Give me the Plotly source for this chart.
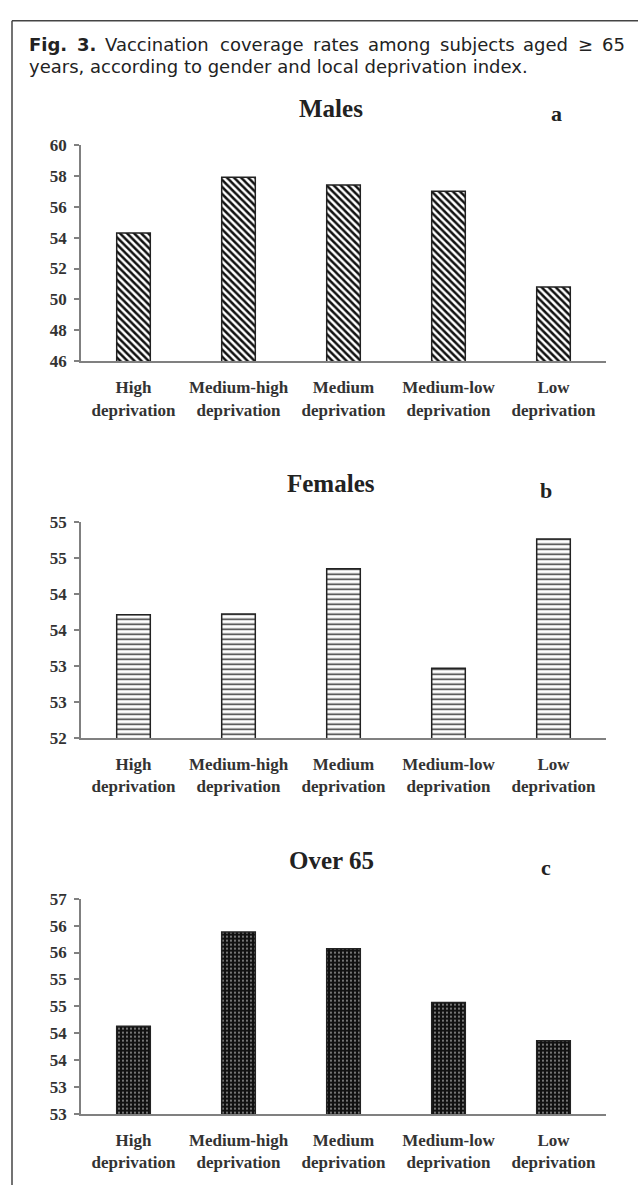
import plotly.graph_objects as go

W, H = 638, 1195

categories = ["High<br>deprivation", "Medium-high<br>deprivation", "Medium<br>deprivation",
              "Medium-low<br>deprivation", "Low<br>deprivation"]

males = [54.3, 57.9, 57.4, 57.0, 50.8]
females = [53.71, 53.72, 54.35, 52.97, 54.76]
over65 = [54.13, 55.88, 55.57, 54.57, 53.86]

males_ticks = [46, 48, 50, 52, 54, 56, 58, 60]
males_ticktext = ["46", "48", "50", "52", "54", "56", "58", "60"]
females_ticks = [52.0, 52.5, 53.0, 53.5, 54.0, 54.5, 55.0]
females_ticktext = ["52", "53", "53", "54", "54", "55", "55"]
over65_ticks = [52.5, 53.0, 53.5, 54.0, 54.5, 55.0, 55.5, 56.0, 56.5]
over65_ticktext = ["53", "53", "54", "54", "55", "55", "56", "56", "57"]

titles = ["Males", "Females", "Over 65"]
letters = ["a", "b", "c"]

caption_words_line1 = ["<b>Fig.</b>", "<b>3.</b>", "Vaccination", "coverage", "rates", "among",
                       "subjects", "aged", "\u2265", "65"]
caption_line2 = "years, according to gender and local deprivation index."

# layout: left edge (px) of each caption word (line 1 is justified)
caption_word_x = [27, 74.5, 103.2, 217.6, 310.5, 365.7, 437.5, 521.4, 575.8, 600.1]


def px_x(v):
    return v / W


def px_y(v):
    return 1 - v / H


SERIF = "Liberation Serif, Times New Roman, serif"
SANS = "DejaVu Sans, sans-serif"

fig = go.Figure()

panels = [
    dict(vals=males, ticks=males_ticks, text=males_ticktext, rng=[46, 60], top=138, bot=358,
         pattern=dict(shape="\\", size=5, solidity=0.5, fgcolor="#111", bgcolor="white", fillmode="replace"),
         title_y=101, letter_x=556, letter_y=106),
    dict(vals=females, ticks=females_ticks, text=females_ticktext, rng=[52, 55], top=521, bot=741,
         pattern=dict(shape="-", size=5, solidity=0.3, fgcolor="#333", bgcolor="white", fillmode="replace"),
         title_y=482, letter_x=546, letter_y=489),
    dict(vals=over65, ticks=over65_ticks, text=over65_ticktext, rng=[52.5, 56.5], top=904, bot=1123,
         pattern=dict(shape=".", size=4, solidity=0.12, fgcolor="white", bgcolor="#111", fillmode="replace"),
         title_y=865, letter_x=546, letter_y=872),
]

for i, p in enumerate(panels):
    n = i + 1
    xa = "x" if n == 1 else f"x{n}"
    ya = "y" if n == 1 else f"y{n}"
    fig.add_trace(go.Bar(
        x=categories, y=p["vals"], xaxis=xa, yaxis=ya, width=0.32,
        marker=dict(color="white", line=dict(color="#222", width=1.5), pattern=p["pattern"]),
        showlegend=False, hoverinfo="skip",
    ))
    fig.update_layout(**{
        f"xaxis{'' if n == 1 else n}": dict(
            domain=[px_x(81), px_x(606)], anchor=ya, showline=True, linecolor="#808080", linewidth=1.5,
            showgrid=False, zeroline=False, ticks="", ticklabelstandoff=10,
            tickfont=dict(family=SERIF, size=17, color="#333", weight="bold"), fixedrange=True,
        ),
        f"yaxis{'' if n == 1 else n}": dict(
            domain=[px_y(p["bot"]), px_y(p["top"])], anchor=xa, range=p["rng"], showline=True,
            linecolor="#808080", linewidth=1.5, showgrid=False, zeroline=False,
            ticks="outside", ticklen=5, tickcolor="#808080", tickwidth=1.5,
            tickvals=p["ticks"], ticktext=p["text"], ticklabelstandoff=4,
            tickfont=dict(family=SERIF, size=17, color="#333", weight="bold"), fixedrange=True,
        ),
    })
    fig.add_annotation(x=px_x(331), y=px_y(p["title_y"]), xref="paper", yref="paper",
                       text=f"<b>{titles[i]}</b>", showarrow=False, xanchor="center", yanchor="middle",
                       font=dict(family=SERIF, size=25, color="#222"))
    fig.add_annotation(x=px_x(p["letter_x"]), y=px_y(p["letter_y"]), xref="paper", yref="paper",
                       text=f"<b>{letters[i]}</b>", showarrow=False, xanchor="center", yanchor="middle",
                       font=dict(family=SERIF, size=22, color="#222"))

for word, wx in zip(caption_words_line1, caption_word_x):
    fig.add_annotation(x=px_x(wx), y=px_y(36), xref="paper", yref="paper", text=word,
                       showarrow=False, xanchor="left", yanchor="middle",
                       font=dict(family=SANS, size=18, color="#222"))
fig.add_annotation(x=px_x(27), y=px_y(58), xref="paper", yref="paper",
                   text=caption_line2, showarrow=False, xanchor="left",
                   yanchor="middle", font=dict(family=SANS, size=18, color="#222"))

# frame
fig.add_shape(type="line", xref="paper", yref="paper", x0=px_x(12), x1=1, y0=px_y(12), y1=px_y(12),
              line=dict(color="#444", width=1.5))
fig.add_shape(type="line", xref="paper", yref="paper", x0=px_x(12), x1=px_x(12), y0=px_y(12), y1=0,
              line=dict(color="#444", width=1.5))

fig.update_layout(width=W, height=H, margin=dict(l=0, r=0, t=0, b=0),
                  paper_bgcolor="white", plot_bgcolor="white", bargap=0.68)

post = ("document.body.style.margin='0';"
        "document.documentElement.style.overflow='hidden';"
        "var d=document.getElementById('{plot_id}');"
        "d.style.position='fixed';d.style.top='0px';d.style.left='0px';")

fig.write_html("out.html", config={"displayModeBar": False}, post_script=post)
